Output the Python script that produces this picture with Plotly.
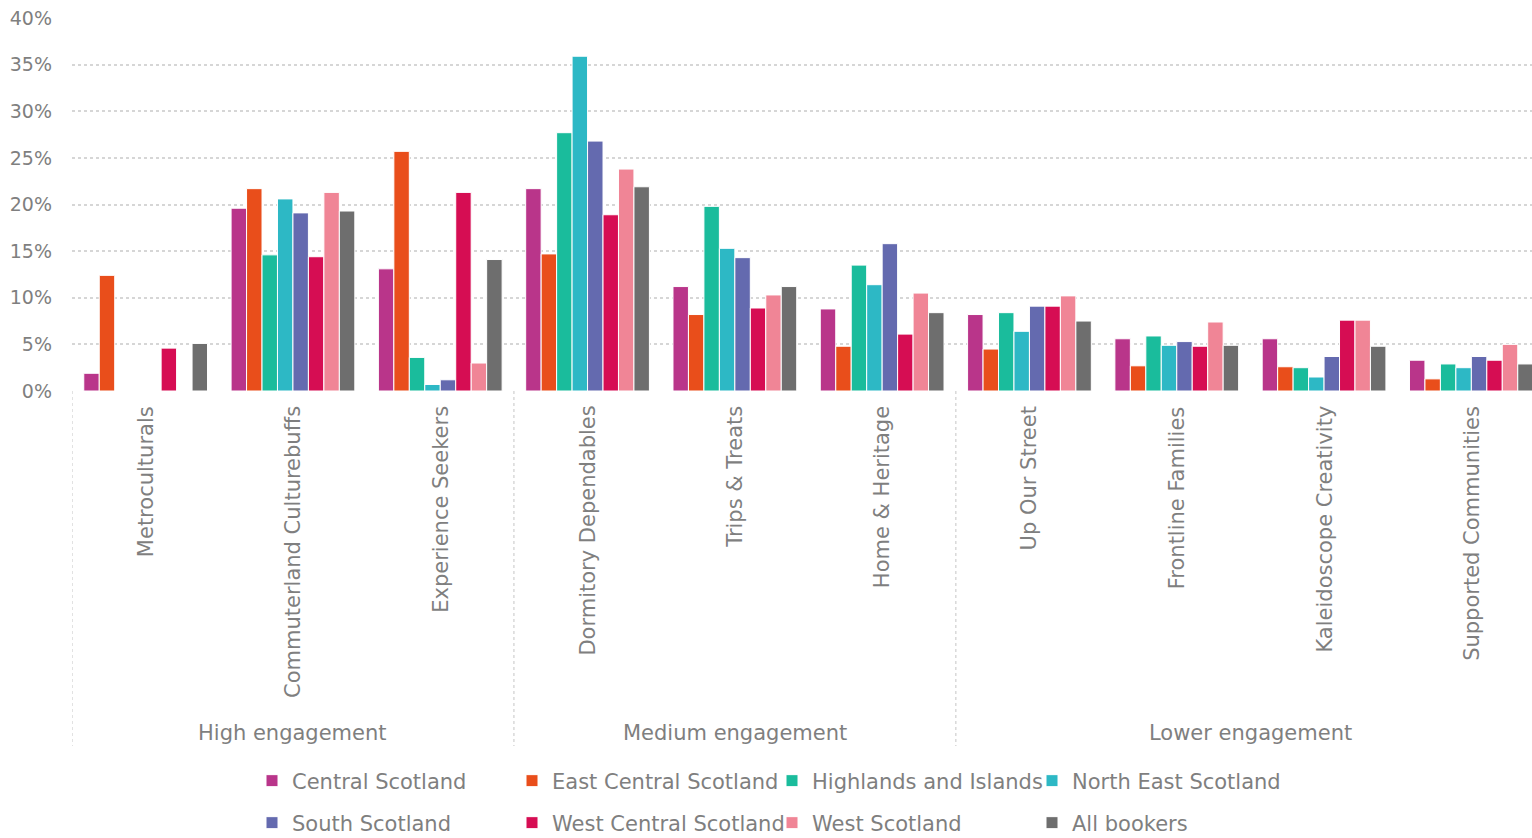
import plotly.graph_objects as go

# Audience segments and their engagement bands
segments = [
    "Metroculturals", "Commuterland Culturebuffs", "Experience Seekers",
    "Dormitory Dependables", "Trips & Treats", "Home & Heritage",
    "Up Our Street", "Frontline Families", "Kaleidoscope Creativity",
    "Supported Communities",
]
bands = ["High engagement", "Medium engagement", "Lower engagement"]
band_sizes = [3, 3, 4]

regions = [
    "Central Scotland", "East Central Scotland", "Highlands and Islands",
    "North East Scotland", "South Scotland", "West Central Scotland",
    "West Scotland", "All bookers",
]

# Share of bookers (%) per segment, one list per region
central_scotland = [1.9, 19.6, 13.1, 21.7, 11.2, 8.8, 8.2, 5.6, 5.6, 3.3]
east_central_scotland = [12.4, 21.7, 25.7, 14.7, 8.2, 4.8, 4.5, 2.7, 2.6, 1.3]
highlands_and_islands = [0, 14.6, 3.6, 27.7, 19.8, 13.5, 8.4, 5.9, 2.5, 2.9]
north_east_scotland = [0, 20.6, 0.7, 35.9, 15.3, 11.4, 6.4, 4.9, 1.5, 2.5]
south_scotland = [0, 19.1, 1.2, 26.8, 14.3, 15.8, 9.1, 5.3, 3.7, 3.7]
west_central_scotland = [4.6, 14.4, 21.3, 18.9, 8.9, 6.1, 9.1, 4.8, 7.6, 3.3]
west_scotland = [0, 21.3, 3.0, 23.8, 10.3, 10.5, 10.2, 7.4, 7.6, 5.0]
all_bookers = [5.1, 19.3, 14.1, 21.9, 11.2, 8.4, 7.5, 4.9, 4.8, 2.9]

series = [
    central_scotland, east_central_scotland, highlands_and_islands,
    north_east_scotland, south_scotland, west_central_scotland,
    west_scotland, all_bookers,
]
colors = ["#B9358A", "#E94E1B", "#1ABC9C", "#2DB8C5",
          "#646AAF", "#D60D53", "#F08596", "#6E6E6E"]

y_ticks = [0, 5, 10, 15, 20, 25, 30, 35, 40]
y_tick_labels = [f"{v}%" for v in y_ticks]

FONT = "DejaVu Sans"
GREY = "#7F7F7F"
W, H = 1532, 838
M_L, M_R, M_T, M_B = 72, 0, 18, 447
plot_h = H - M_T - M_B

def py(px):
    """Convert a pixel offset below the plot floor to paper units."""
    return -px / plot_h

def cy(px_from_top):
    """Convert a pixel row measured from the top of the page to container units."""
    return 1 - px_from_top / H

x = list(range(len(segments)))

fig = go.Figure()
for i, (name, vals, col) in enumerate(zip(regions, series, colors)):
    fig.add_trace(go.Bar(
        x=x, y=vals, name=name,
        marker=dict(color=col, line=dict(color="white", width=1)),
        legend="legend" if i < 4 else "legend2",
    ))

# Rotated segment labels beneath the bars
annotations = []
for i, seg in enumerate(segments):
    annotations.append(dict(
        x=i, y=0, xref="x", yref="paper", yshift=-13,
        text=seg, textangle=-90, showarrow=False,
        xanchor="center", yanchor="top",
        font=dict(family=FONT, size=21, color=GREY),
    ))

# Engagement band labels and dividers
divider = dict(color="#D9D9D9", width=1.5, dash="dot")
start = 0
shapes = []
for band, size in zip(bands, band_sizes):
    centre = start + (size - 1) / 2
    annotations.append(dict(
        x=centre, y=py(342), xref="x", yref="paper",
        text=band, showarrow=False, xanchor="center", yanchor="middle",
        font=dict(family=FONT, size=21, color=GREY),
    ))
    shapes.append(dict(
        type="line", xref="x", yref="paper",
        x0=start - 0.5, x1=start - 0.5, y0=0, y1=py(355), line=divider,
    ))
    start += size
shapes.append(dict(
    type="line", xref="x", yref="paper",
    x0=start - 0.5, x1=start - 0.5, y0=0, y1=py(355), line=divider,
))

legend_common = dict(
    orientation="h", xanchor="left", yanchor="middle",
    xref="container", yref="container",
    x=252 / W,
    font=dict(family=FONT, size=21, color=GREY),
    entrywidth=215, entrywidthmode="pixels",
    itemwidth=30, bgcolor="rgba(0,0,0,0)", traceorder="normal",
)

fig.update_layout(
    width=W, height=H,
    margin=dict(l=M_L, r=M_R, t=M_T, b=M_B, pad=0),
    paper_bgcolor="white", plot_bgcolor="white",
    barmode="group", bargap=0.16, bargroupgap=0,
    xaxis=dict(
        range=[-0.5, len(segments) - 0.5 - 13 / 147.3],
        showticklabels=False, showgrid=False, zeroline=False,
        showline=False, ticks="",
    ),
    yaxis=dict(
        range=[0, 40], tickmode="array",
        tickvals=y_ticks, ticktext=y_tick_labels,
        showgrid=True, gridcolor="#D6D6D6", gridwidth=1.5, griddash="dot",
        zeroline=False, showline=False, ticks="",
        tickfont=dict(family=FONT, size=19, color=GREY),
        ticklabelstandoff=19,
    ),
    legend=dict(legend_common, y=cy(781)),
    legend2=dict(legend_common, y=cy(823)),
    annotations=annotations,
    shapes=shapes,
    showlegend=True,
)

fig.write_html("out.html")
